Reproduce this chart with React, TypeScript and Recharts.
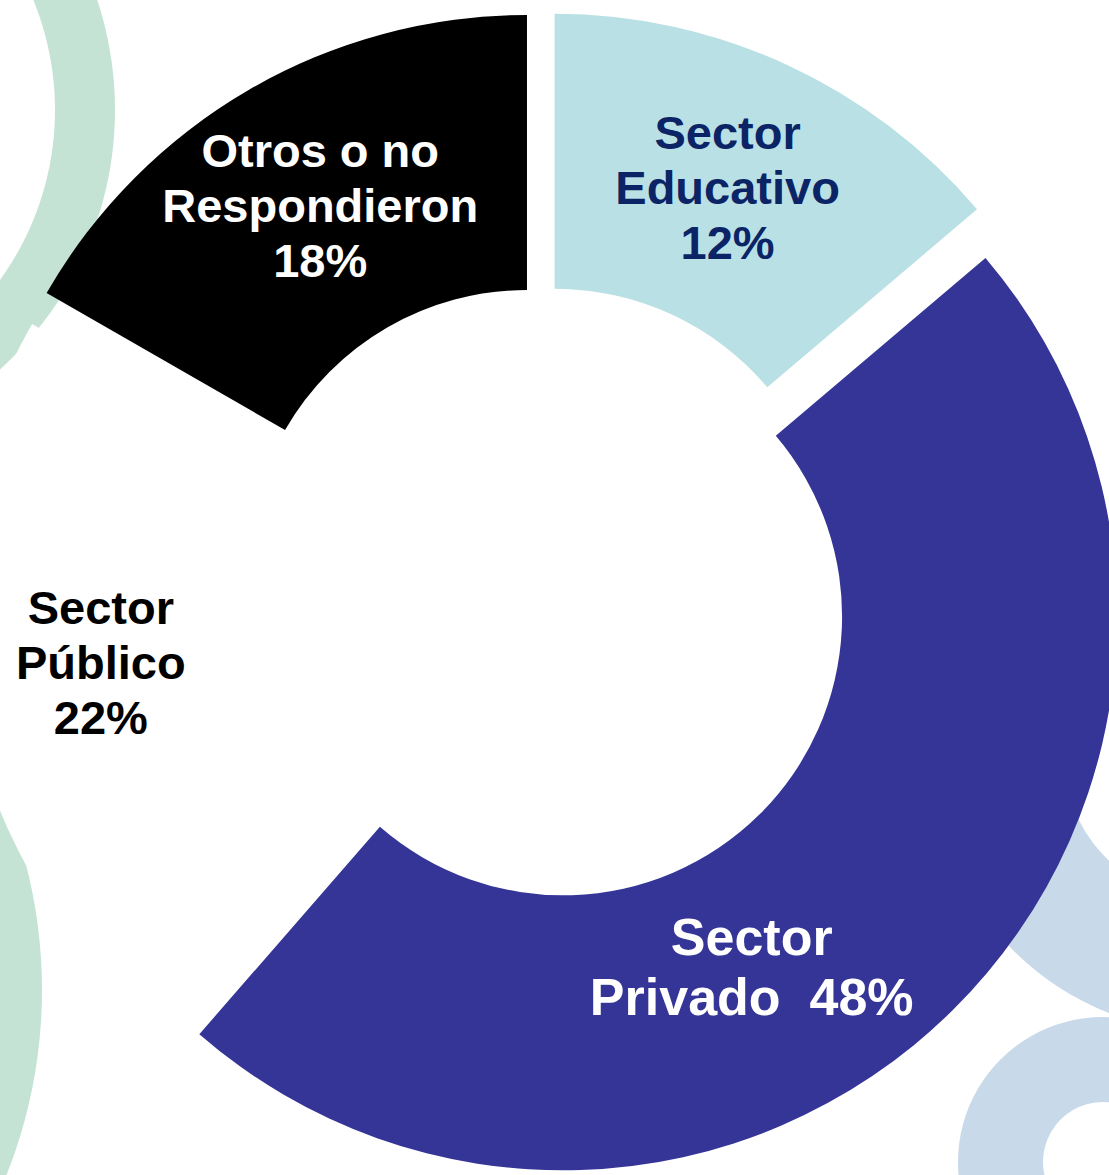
import React from 'react';
import { PieChart, Pie, Cell } from 'recharts';

// sector shares (the printed % are rounded in the source)
const SECTORS = ['Sector Educativo', 'Sector Privado', 'Sector Público', 'Otros o no Respondieron'];
const VALUES = [13.8, 47.6, 21.9, 16.7];
const PCT_LABELS = ['12%', '48%', '22%', '18%'];
const NAME_LINES = [['Sector', 'Educativo'], ['Sector', 'Privado'], ['Sector', 'Público'], ['Otros o no', 'Respondieron']];
const PCT_INLINE = [false, true, false, false];

const COLORS = ['#b9e0e4', '#353597', '#ffffff', '#000000'];
const TEXT_COLORS = ['#0b2466', '#ffffff', '#000000', '#ffffff'];

const W = 1109;
const H = 1175;
const CENTER_X = 542;
const CENTER_Y = 595;
const EXPLODE = 30;
const INNER = 279;
const OUTER = 554;
const RAD = Math.PI / 180;

// small angle nudges for where the labels sit (degrees)
const LABEL_NUDGE = [0.3, -16.5, -0.7, -0.3];

// background rings of the slide
const DECOR = [
  { cx: -235, cy: 110, inner: 290, outer: 350, start: 0, end: 360, color: '#c5e3d4' },
  { cx: -458, cy: 990, inner: 440, outer: 500, start: 0, end: 360, color: '#c5e3d4' },
  { cx: 1210, cy: 754, inner: 147, outer: 278, start: 150, end: 330, color: '#c8d9ea' },
  { cx: 1103, cy: 1162, inner: 60, outer: 145, start: 0, end: 360, color: '#c8d9ea' },
];

const FONT = '"Liberation Sans", Arial, sans-serif';

export default function App() {
  const total = VALUES.reduce((a, b) => a + b, 0);
  let acc = 0;
  const slices = VALUES.map((v, i) => {
    const start = 90 - (acc / total) * 360;
    acc += v;
    const end = 90 - (acc / total) * 360;
    const mid = (start + end) / 2;
    return {
      i,
      start,
      end,
      mid,
      cx: CENTER_X + EXPLODE * Math.cos(mid * RAD),
      cy: CENTER_Y - EXPLODE * Math.sin(mid * RAD),
    };
  });

  const renderLabel = (s: any) => () => {
    const i = s.i;
    const big = PCT_INLINE[i];
    const fs = big ? 52 : 47;
    const lh = big ? 60 : 55;
    const ang = s.mid + LABEL_NUDGE[i];
    const r = big ? 400 : (INNER + OUTER) / 2;
    const x = s.cx + r * Math.cos(ang * RAD);
    const y = s.cy - r * Math.sin(ang * RAD) - 2;
    const lines = big
      ? [...NAME_LINES[i].slice(0, -1), NAME_LINES[i][NAME_LINES[i].length - 1] + '\u00a0\u00a0' + PCT_LABELS[i]]
      : [...NAME_LINES[i], PCT_LABELS[i]];
    const y0 = y - ((lines.length - 1) / 2) * lh;
    return (
      <text
        x={x}
        y={y0}
        textAnchor="middle"
        dominantBaseline="central"
        fill={TEXT_COLORS[i]}
        style={{ fontFamily: FONT, fontWeight: 700, fontSize: fs }}
      >
        {lines.map((t, k) => (
          <tspan key={k} x={x} y={y0 + k * lh}>
            {t}
          </tspan>
        ))}
      </text>
    );
  };

  return (
    <div style={{ position: 'absolute', left: 0, top: 0, width: W, height: H, overflow: 'hidden', background: '#fff' }}>
      <PieChart width={W} height={H} margin={{ top: 0, right: 0, bottom: 0, left: 0 }}>
        {DECOR.map((d, k) => (
          <Pie
            key={'decor-' + k}
            data={[{ value: 1 }]}
            dataKey="value"
            cx={d.cx}
            cy={d.cy}
            innerRadius={d.inner}
            outerRadius={d.outer}
            startAngle={d.start}
            endAngle={d.end}
            fill={d.color}
            stroke="none"
            isAnimationActive={false}
          />
        ))}
        {slices.map((s) => (
          <Pie
            key={SECTORS[s.i]}
            data={[{ name: SECTORS[s.i], value: VALUES[s.i] }]}
            dataKey="value"
            nameKey="name"
            cx={s.cx}
            cy={s.cy}
            innerRadius={INNER}
            outerRadius={OUTER}
            startAngle={s.start}
            endAngle={s.end}
            stroke="none"
            labelLine={false}
            label={renderLabel(s)}
            isAnimationActive={false}
          >
            <Cell fill={COLORS[s.i]} />
          </Pie>
        ))}
      </PieChart>
    </div>
  );
}
